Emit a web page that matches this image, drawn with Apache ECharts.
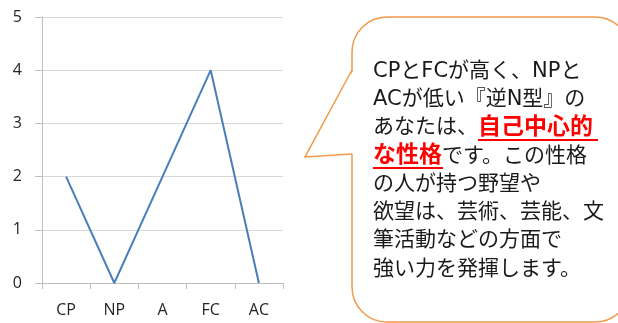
<!DOCTYPE html>
<html><head><meta charset="utf-8">
<script src="https://cdn.jsdelivr.net/npm/echarts@6/dist/echarts.min.js"></script>
<style>html,body{margin:0;padding:0;background:#fff}#c{width:618px;height:323px}</style>
</head><body><div id="c"></div>
<script>
const categories = ['CP', 'NP', 'A', 'FC', 'AC'];
const values = [2, 0, 2, 4, 0];
const yTicks = [0, 1, 2, 3, 4, 5];
const bubbleLines = [
  [['n', 'CPとFCが高く、NPと']],
  [['n', 'ACが低い『逆N型』の']],
  [['n', 'あなたは、'], ['r', '自己中心的']],
  [['r', 'な性格'], ['n', 'です。この性格']],
  [['n', 'の人が持つ野望や']],
  [['n', '欲望は、芸術、芸能、文']],
  [['n', '筆活動などの方面で']],
  [['n', '強い力を発揮します。']]
];

const chart = echarts.init(document.getElementById('c'));
const FONT = '"DejaVu Sans", "Noto Sans CJK JP", sans-serif';
const text = bubbleLines.map(l => l.map(s => '{' + s[0] + '|' + s[1] + '}').join('')).join('\n');
const orange = '#f2994a';
const AXFONT = '"Open Sans", sans-serif';

chart.setOption({
  animation: false,
  grid: { left: 42, right: 335, top: 17, bottom: 40 },
  xAxis: {
    type: 'category', data: categories, boundaryGap: true,
    axisLine: { lineStyle: { color: '#bfbfbf', width: 1 } },
    axisTick: { show: true, length: 6, lineStyle: { color: '#bfbfbf' } },
    axisLabel: { color: '#262626', fontSize: 16, margin: 19, fontFamily: AXFONT }
  },
  yAxis: {
    type: 'value', min: yTicks[0], max: yTicks[yTicks.length - 1], interval: 1,
    axisLine: { show: true, lineStyle: { color: '#bfbfbf', width: 1 } },
    axisTick: { show: true, inside: false, length: 7, lineStyle: { color: '#bfbfbf' } },
    splitLine: { lineStyle: { color: '#d9d9d9', width: 1 } },
    axisLabel: { color: '#262626', fontSize: 16, margin: 20, fontFamily: AXFONT }
  },
  series: [{
    type: 'line', data: values, symbol: 'none',
    lineStyle: { color: '#4a7ebb', width: 2 }
  }],
  graphic: [
    {
      type: 'rect',
      shape: { x: 352, y: 17, width: 278, height: 305, r: 35 },
      style: { fill: '#fff', stroke: orange, lineWidth: 1.5 }
    },
    {
      type: 'polygon',
      shape: { points: [[353.5, 70], [305, 157], [353.5, 154]] },
      style: { fill: '#fff', stroke: null }
    },
    {
      type: 'polyline',
      shape: { points: [[352, 70], [305, 157], [352, 154]] },
      style: { fill: null, stroke: orange, lineWidth: 1.5 }
    },
    {
      type: 'text', x: 373, y: 57,
      style: {
        text: text, font: '21px ' + FONT, lineHeight: 28.3, fill: '#1a1a1a',
        rich: {
          n: { fontSize: 21, fontFamily: FONT, fill: '#1a1a1a', lineHeight: 28.3 },
          r: { fontSize: 23, fontFamily: FONT, fill: '#ff0000', fontWeight: 'bold', lineHeight: 28.3 }
        }
      }
    },
    { type: 'line', shape: { x1: 478, y1: 140, x2: 598, y2: 140 }, style: { stroke: '#ff0000', lineWidth: 2 } },
    { type: 'line', shape: { x1: 373, y1: 168, x2: 443, y2: 168 }, style: { stroke: '#ff0000', lineWidth: 2 } }
  ]
});
</script></body></html>
